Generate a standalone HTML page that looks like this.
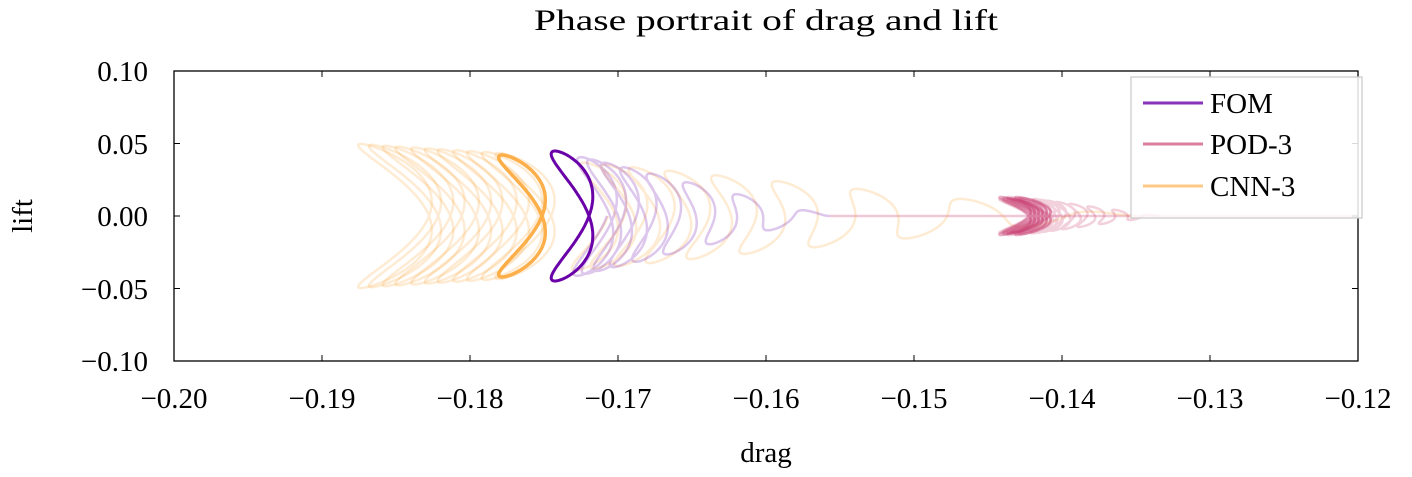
<!DOCTYPE html>
<html><head><style>
body{margin:0;background:#fff}
svg text{font-family:"Liberation Serif",serif;fill:#000}
</style></head><body>
<svg id="s" width="1412" height="472" xmlns="http://www.w3.org/2000/svg">
<text x="766" y="30" font-size="30" text-anchor="middle" textLength="464" lengthAdjust="spacingAndGlyphs">Phase portrait of drag and lift</text>
<g id="curves"></g>
<rect x="174" y="71" width="1184" height="290" fill="none" stroke="#000" stroke-width="1.3"/>
<g id="ticks" stroke="#000" stroke-width="1"></g>
<g font-size="29" text-anchor="middle">
<text x="174" y="408">−0.20</text><text x="322" y="408">−0.19</text><text x="470" y="408">−0.18</text>
<text x="618" y="408">−0.17</text><text x="766" y="408">−0.16</text><text x="914" y="408">−0.15</text>
<text x="1062" y="408">−0.14</text><text x="1210" y="408">−0.13</text><text x="1358" y="408">−0.12</text>
</g>
<g font-size="29" text-anchor="end">
<text x="148" y="81">0.10</text><text x="148" y="154">0.05</text><text x="148" y="226">0.00</text>
<text x="148" y="299">−0.05</text><text x="148" y="371">−0.10</text>
</g>
<text x="766" y="462" font-size="29" text-anchor="middle">drag</text>
<text transform="translate(32,216) rotate(-90)" font-size="29" text-anchor="middle">lift</text>
<rect x="1131" y="77" width="231" height="141" fill="#fff" fill-opacity="0.85" stroke="#ccc" stroke-width="1.3"/>
<line x1="1143" y1="103" x2="1203" y2="103" stroke="#6a00a8" stroke-opacity="0.8" stroke-width="3"/>
<line x1="1143" y1="144" x2="1203" y2="144" stroke="#cc4778" stroke-opacity="0.7" stroke-width="3"/>
<line x1="1143" y1="186" x2="1203" y2="186" stroke="#fca636" stroke-opacity="0.6" stroke-width="3"/>
<g font-size="29"><text x="1210" y="113">FOM</text><text x="1210" y="154">POD-3</text><text x="1210" y="196">CNN-3</text></g>
</svg>
<script>
var g=document.getElementById('curves'),NS='http://www.w3.org/2000/svg';
function P(d,c,o,w){var p=document.createElementNS(NS,'path');p.setAttribute('d',d);p.setAttribute('fill','none');p.setAttribute('stroke',c);p.setAttribute('stroke-opacity',o);p.setAttribute('stroke-width',w);p.setAttribute('stroke-linejoin','round');g.appendChild(p);}
function loop(cx,d,k,A,n){var s='';for(var i=0;i<=200*n;i++){var t=i/200*2*Math.PI;var x=cx+d*Math.cos(2*t)+k*Math.sin(2*t),y=216-A*Math.sin(t);s+=(i?'L':'M')+x.toFixed(1)+' '+y.toFixed(1);}return s;}
function trans(x0,x1,A,d,k,cyc,tau){var s='',N=cyc*200;for(var i=0;i<=N;i++){var u=i/N,t=u*cyc*2*Math.PI;var e=Math.exp(-u*tau);var cx=x1+(x0-x1)*e;var a=1-e;var x=cx+d*a*Math.cos(2*t)+k*a*Math.sin(2*t),y=216-A*a*Math.sin(t);s+=(i?'L':'M')+x.toFixed(1)+' '+y.toFixed(1);}return s;}
var tk=document.getElementById('ticks'),s='';
for(var i=0;i<=8;i++){var x=174+148*i;s+='M'+x+' 361v-6M'+x+' 71v6';}
for(var j=0;j<=4;j++){var y=71+72.5*j;s+='M174 '+y+'h6M1358 '+y+'h-6';}
var tp=document.createElementNS(NS,'path');tp.setAttribute('d',s);tp.setAttribute('stroke','#000');tk.appendChild(tp);
P('M830 216H1358','#cc4778',0.3,2.5);
var cs=[395,405,418,430,445,458,470,485,498,512,525];
cs.forEach(function(c,i){P(loop(c,34-i*0.8,14,72-i*0.9,1),'#fca636',0.22,2.5);});
P(trans(1140,535,60,20,12,9,2.4),'#fca636',0.22,2.5);
P(trans(830,572,65,17,12,8,2.6),'#6a00a8',0.22,2.5);
for(var i=0;i<18;i++){P(loop(1015+(i%6)*4,14,7,19-(i%4),1),'#cc4778',0.25,2.5);}
P(trans(1160,1030,19,10,6,8,2.5),'#cc4778',0.25,2.5);
P(loop(522,20,12,61,1),'#fca636',0.9,3.5);
P(loop(572,17,12,65,1),'#6a00a8',1,3);
</script>
</body></html>
